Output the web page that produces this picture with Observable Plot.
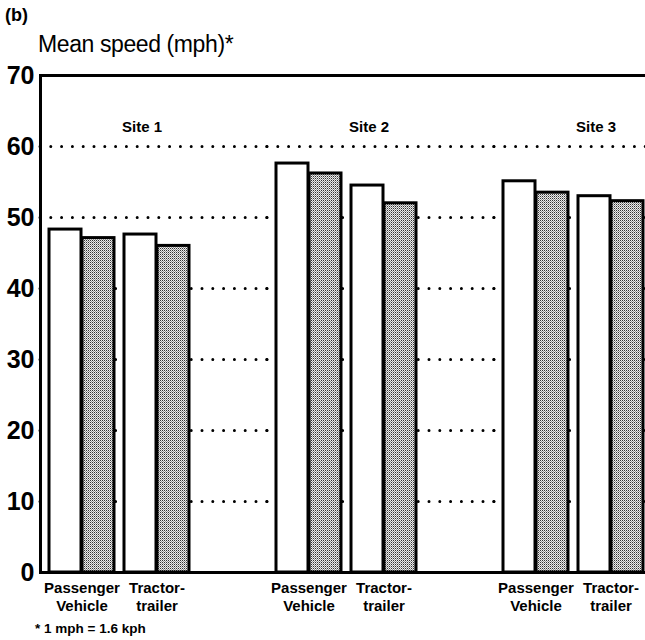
<!DOCTYPE html>
<html>
<head>
<meta charset="utf-8">
<script src="https://cdn.jsdelivr.net/npm/d3@7"></script>
<script src="https://cdn.jsdelivr.net/npm/@observablehq/plot@0.6"></script>
<style>
  body { margin: 0; background: #fff; color: #000; font-family: "Liberation Sans", Arial, sans-serif; }
  #wrap { width: 645px; height: 640px; overflow: hidden; position: relative; }
  #head { position: relative; height: 62px; }
  #tag { position: absolute; left: 5px; top: 5px; font-size: 18px; font-weight: bold; line-height: 20px; }
  #title { position: absolute; left: 38px; top: 31px; font-size: 23px; letter-spacing: -0.4px; line-height: 27px; white-space: nowrap; }
  #chart { width: 645px; overflow: hidden; }
  #chart svg { display: block; }
  #note { padding: 6px 0 0 35px; font-size: 13.5px; font-weight: bold; line-height: 18px; white-space: nowrap; }
</style>
</head>
<body>
<div id="wrap">
  <div id="head">
    <div id="tag">(b)</div>
    <div id="title">Mean speed (mph)*</div>
  </div>
  <div id="chart"></div>
  <div id="note">* 1 mph = 1.6 kph</div>
</div>
<script>
// Survey sites and vehicle classes
const sites = ["Site 1", "Site 2", "Site 3"];
const vehicles = ["Passenger Vehicle", "Tractor-trailer"];
const vehicleLabels = ["Passenger\nVehicle", "Tractor-\ntrailer"];

// Mean speeds (mph), site by site, passenger vehicle then tractor-trailer
const speedBefore = [48.3, 47.6, 57.6, 54.5, 55.1, 53.0];
const speedAfter  = [47.1, 46.0, 56.2, 52.0, 53.5, 52.3];

// Axis ticks and dotted reference lines
const yTicks = [0, 10, 20, 30, 40, 50, 60, 70];
const gridTicks = [10, 20, 30, 40, 50, 60];

const rows = [];
sites.forEach((site, i) => {
  vehicles.forEach((vehicle, j) => {
    const k = i * vehicles.length + j;
    rows.push({site, vehicle, before: speedBefore[k], after: speedAfter[k]});
  });
});

const svg = Plot.plot({
  width: 40 + 3 * 227,
  height: 552,
  marginLeft: 40,
  marginRight: 0,
  marginTop: 13,
  marginBottom: 42,
  style: {fontFamily: "Liberation Sans, Arial, sans-serif", background: "white", color: "black"},
  fx: {domain: sites, padding: 0, axis: null},
  x: {domain: vehicles, paddingInner: 0.1316, paddingOuter: 0.56, align: 0.106},
  y: {domain: [0, 70]},
  marks: [
    Plot.ruleY(gridTicks, {stroke: "black", strokeWidth: 3, strokeDasharray: "0,10.8", strokeLinecap: "round"}),
    Plot.barY(rows, {fx: "site", x: "vehicle", y: "before", fill: "white", stroke: "black", strokeWidth: 3, insetRight: 33}),
    Plot.barY(rows, {fx: "site", x: "vehicle", y: "after", fill: "url(#stipple)", stroke: "black", strokeWidth: 3, insetLeft: 33}),
    Plot.ruleY([0, 70], {stroke: "black", strokeWidth: 3}),
    Plot.frame({anchor: "left", facetAnchor: "left", stroke: "black", strokeWidth: 3}),
    Plot.axisY({ticks: yTicks, tickSize: 0, tickPadding: 6, fontSize: 25, fontWeight: "bold", label: null, facetAnchor: "left"}),
    Plot.axisX({tickSize: 0, tickPadding: 8, fontSize: 15, fontWeight: "bold", lineHeight: 1.2, label: null,
      facetAnchor: "bottom", tickFormat: d => vehicleLabels[vehicles.indexOf(d)]}),
    Plot.text(sites, {fx: d => d, text: d => d, frameAnchor: "top", lineAnchor: "middle", dy: 52, dx: -12,
      fontSize: 15, fontWeight: "bold"})
  ]
});

// Keep the drawing at its natural size; the container crops the right edge
svg.style.maxWidth = "none";
svg.style.height = "552px";

// Halftone stipple used for the shaded bars
const ns = "http://www.w3.org/2000/svg";
const defs = document.createElementNS(ns, "defs");
defs.innerHTML =
  '<pattern id="stipple" width="2" height="2" patternUnits="userSpaceOnUse">' +
  '<rect width="2" height="2" fill="#ececec"/>' +
  '<rect width="1" height="1" fill="#333333"/>' +
  '<rect x="1" y="1" width="1" height="1" fill="#949494"/>' +
  '</pattern>';
svg.prepend(defs);

document.getElementById("chart").appendChild(svg);
</script>
</body>
</html>
